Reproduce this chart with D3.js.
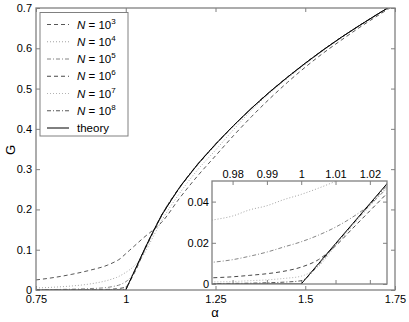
<!DOCTYPE html>
<html>
<head>
<meta charset="utf-8">
<script src="https://cdn.jsdelivr.net/npm/d3@7"></script>
<style>
body { margin: 0; background: #fff; }
text { font-family: "Liberation Sans", Arial, sans-serif; fill: #000; }
</style>
</head>
<body>
<div id="chart"></div>
<script>
// alpha grid shared by every curve (denser near the transition at 1)
const alpha = [0.75, 0.8, 0.85, 0.9, 0.95, 0.974, 0.98, 0.985, 0.99, 0.995, 1.0,
               1.005, 1.01, 1.015, 1.02, 1.025, 1.05, 1.075, 1.1, 1.15, 1.2, 1.25,
               1.3, 1.35, 1.4, 1.45, 1.5, 1.55, 1.6, 1.65, 1.7, 1.75];

const theory = [0, 0, 0, 0, 0, 0, 0, 0, 0, 0, 0,
                0.0098, 0.0196, 0.0293, 0.039, 0.0487, 0.097, 0.143, 0.186, 0.255, 0.312, 0.362,
                0.408, 0.451, 0.491, 0.528, 0.563, 0.596, 0.627, 0.656, 0.684, 0.711];

const gN3 = [0.025, 0.031, 0.039, 0.049, 0.062, 0.072, 0.075, 0.078, 0.082, 0.086, 0.09,
             0.094, 0.098, 0.102, 0.106, 0.11, 0.13, 0.148, 0.168, 0.228, 0.283, 0.333,
             0.383, 0.43, 0.474, 0.515, 0.553, 0.588, 0.62, 0.651, 0.68, 0.708];

const gN4 = [0.005, 0.007, 0.01, 0.015, 0.024, 0.031, 0.033, 0.036, 0.038, 0.041, 0.0435,
             0.0465, 0.0498, 0.053, 0.057, 0.061, 0.088, 0.13, 0.172, 0.24, 0.298, 0.347,
             0.398, 0.446, 0.488, 0.525, 0.56, 0.594, 0.625, 0.655, 0.683, 0.71];

const gN5 = [0.0008, 0.0012, 0.002, 0.0035, 0.0065, 0.0105, 0.0118, 0.0135, 0.0155, 0.018, 0.0205,
             0.0237, 0.0276, 0.0325, 0.0385, 0.0465, 0.094, 0.14, 0.183, 0.253, 0.31, 0.36,
             0.407, 0.45, 0.49, 0.527, 0.562, 0.595, 0.627, 0.656, 0.684, 0.711];

const gN6 = [0, 0, 0.0002, 0.0006, 0.0015, 0.003, 0.0035, 0.0042, 0.005, 0.0062, 0.0082,
             0.0118, 0.0185, 0.027, 0.0355, 0.044, 0.094, 0.141, 0.185, 0.254, 0.311, 0.361,
             0.408, 0.451, 0.491, 0.528, 0.563, 0.596, 0.627, 0.656, 0.684, 0.711];

const gN7 = [0, 0, 0, 0, 0.0003, 0.001, 0.0012, 0.0016, 0.002, 0.0027, 0.0038,
             0.0085, 0.0185, 0.0283, 0.0378, 0.0472, 0.096, 0.142, 0.186, 0.255, 0.312, 0.362,
             0.408, 0.451, 0.491, 0.528, 0.563, 0.596, 0.627, 0.656, 0.684, 0.711];

const gN8 = [0, 0, 0, 0, 0, 0.0002, 0.0003, 0.0004, 0.0006, 0.0009, 0.0016,
             0.0092, 0.0192, 0.029, 0.0385, 0.048, 0.097, 0.143, 0.186, 0.255, 0.312, 0.362,
             0.408, 0.451, 0.491, 0.528, 0.563, 0.596, 0.627, 0.656, 0.684, 0.711];

const exponents = ["3", "4", "5", "6", "7", "8"];

const xTicks = [0.75, 1, 1.25, 1.5, 1.75];
const yTicks = [0, 0.1, 0.2, 0.3, 0.4, 0.5, 0.6, 0.7];
const xTicksInset = [0.98, 0.99, 1, 1.01, 1.02];
const yTicksInset = [0, 0.02, 0.04];

const series = [
    { exp: exponents[0], values: gN3, dash: "4,3", color: "#444", width: 0.9 },
    { exp: exponents[1], values: gN4, dash: "1,2", color: "#999", width: 0.9 },
    { exp: exponents[2], values: gN5, dash: "4,2,1,2", color: "#777", width: 0.9 },
    { exp: exponents[3], values: gN6, dash: "4,3", color: "#333", width: 0.9 },
    { exp: exponents[4], values: gN7, dash: "1,2", color: "#aaa", width: 0.9 },
    { exp: exponents[5], values: gN8, dash: "4,2,1,2", color: "#444", width: 0.9 }
];

const W = 409, H = 322;
const svg = d3.select("#chart").append("svg")
    .attr("width", W)
    .attr("height", H);

const frameColor = "#808080";

const x = d3.scaleLinear().domain([0.75, 1.75]).range([36, 395]);
const y = d3.scaleLinear().domain([0, 0.7]).range([290, 8]);

const xi = d3.scaleLinear().domain([0.974, 1.025]).range([212, 387]);
const yi = d3.scaleLinear().domain([0, 0.05]).range([284, 181]);

const defs = svg.append("defs");
defs.append("clipPath").attr("id", "clipMain").append("rect")
    .attr("x", 36).attr("y", 8).attr("width", 359).attr("height", 282);
defs.append("clipPath").attr("id", "clipInset").append("rect")
    .attr("x", 212).attr("y", 181).attr("width", 175).attr("height", 103);

function styleAxis(g) {
    g.select(".domain").remove();
    g.selectAll(".tick line").attr("stroke", frameColor).attr("stroke-width", 1);
    g.selectAll(".tick text").attr("font-size", 11).attr("font-family", "Liberation Sans, Arial, sans-serif");
}

// ---------- main axes ----------
const main = svg.append("g");

main.append("g").attr("transform", "translate(0,290)")
    .call(d3.axisBottom(x).tickValues(xTicks).tickSize(-4).tickPadding(5).tickFormat(d => String(d)))
    .call(styleAxis);
main.append("g").attr("transform", "translate(0,8)")
    .call(d3.axisTop(x).tickValues(xTicks).tickSize(-4).tickFormat(""))
    .call(styleAxis);
main.append("g").attr("transform", "translate(36,0)")
    .call(d3.axisLeft(y).tickValues(yTicks).tickSize(-4).tickPadding(4).tickFormat(d => d === 0 ? "0" : d3.format(".1f")(d)))
    .call(styleAxis);
main.append("g").attr("transform", "translate(395,0)")
    .call(d3.axisRight(y).tickValues(yTicks).tickSize(-4).tickFormat(""))
    .call(styleAxis);

function drawCurves(g, xs, ys, clipId) {
    const line = d3.line()
        .x((d, i) => xs(alpha[i]))
        .y(d => ys(d))
        .curve(d3.curveMonotoneX);
    const lin = d3.line()
        .x((d, i) => xs(alpha[i]))
        .y(d => ys(d));
    const cg = g.append("g").attr("clip-path", `url(#${clipId})`);
    series.forEach(s => {
        cg.append("path")
            .attr("d", line(s.values))
            .attr("fill", "none")
            .attr("stroke", s.color)
            .attr("stroke-width", s.width)
            .attr("stroke-dasharray", s.dash);
    });
    cg.append("path")
        .attr("d", lin(theory))
        .attr("fill", "none")
        .attr("stroke", "#000")
        .attr("stroke-width", 1);
}

drawCurves(main, x, y, "clipMain");

main.append("rect")
    .attr("x", 36).attr("y", 8).attr("width", 359).attr("height", 282)
    .attr("fill", "none").attr("stroke", frameColor).attr("stroke-width", 1.3);

// axis titles
svg.append("text")
    .attr("x", 215).attr("y", 317)
    .attr("text-anchor", "middle")
    .attr("font-size", 13)
    .text("α");
svg.append("text")
    .attr("transform", "translate(15,150) rotate(-90)")
    .attr("text-anchor", "middle")
    .attr("font-size", 13)
    .text("G");

// ---------- legend ----------
const legend = svg.append("g");
legend.append("rect")
    .attr("x", 40).attr("y", 12.5).attr("width", 88).attr("height", 123.5)
    .attr("fill", "#fff").attr("stroke", frameColor).attr("stroke-width", 1);

const rowY = d3.scaleLinear().domain([0, 6]).range([24.5, 128]);
const legendRows = series.map(s => ({ ...s, theory: false }))
    .concat([{ color: "#000", dash: null, width: 1, theory: true }]);

legendRows.forEach((r, i) => {
    const yy = rowY(i);
    legend.append("line")
        .attr("x1", 47).attr("x2", 69).attr("y1", yy).attr("y2", yy)
        .attr("stroke", r.color)
        .attr("stroke-width", r.width)
        .attr("stroke-dasharray", r.dash);
    const t = legend.append("text")
        .attr("x", 77).attr("y", yy + 4)
        .attr("font-size", 11.5);
    if (r.theory) {
        t.text("theory");
    } else {
        t.append("tspan").attr("font-style", "italic").text("N");
        t.append("tspan").text(" = 10");
        t.append("tspan").attr("font-size", 8).attr("dy", -5).text(r.exp);
    }
});

// ---------- inset ----------
const inset = svg.append("g");
inset.append("rect")
    .attr("x", 212).attr("y", 181).attr("width", 175).attr("height", 103)
    .attr("fill", "#fff");

inset.append("g").attr("transform", "translate(0,181)")
    .call(d3.axisTop(xi).tickValues(xTicksInset).tickSize(-4).tickPadding(3).tickFormat(d => String(d)))
    .call(styleAxis);
inset.append("g").attr("transform", "translate(0,284)")
    .call(d3.axisBottom(xi).tickValues(xTicksInset).tickSize(-4).tickFormat(""))
    .call(styleAxis);
inset.append("g").attr("transform", "translate(212,0)")
    .call(d3.axisLeft(yi).tickValues(yTicksInset).tickSize(-4).tickPadding(3).tickFormat(d => d === 0 ? "0" : d3.format(".2f")(d)))
    .call(styleAxis);
inset.append("g").attr("transform", "translate(387,0)")
    .call(d3.axisRight(yi).tickValues(yTicksInset).tickSize(-4).tickFormat(""))
    .call(styleAxis);

drawCurves(inset, xi, yi, "clipInset");

inset.append("rect")
    .attr("x", 212).attr("y", 181).attr("width", 175).attr("height", 103)
    .attr("fill", "none").attr("stroke", frameColor).attr("stroke-width", 1.3);
</script>
</body>
</html>
